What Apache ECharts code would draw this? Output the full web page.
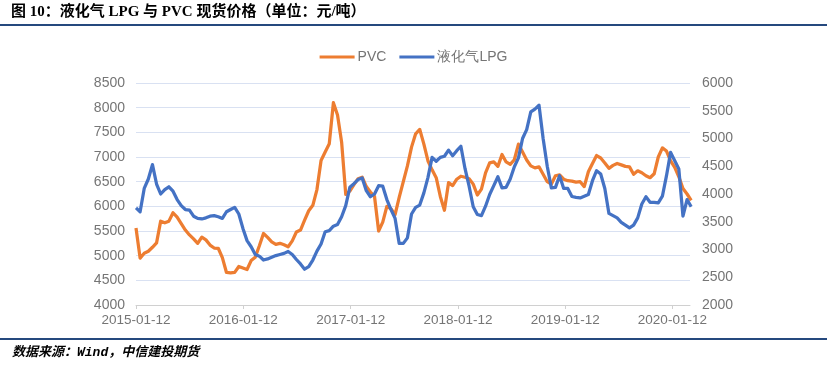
<!DOCTYPE html>
<html><head><meta charset="utf-8">
<script src="https://cdn.jsdelivr.net/npm/echarts@6/dist/echarts.min.js"></script>
<style>html,body{margin:0;padding:0;background:#fff}#c{width:827px;height:365px}</style>
</head><body><div id="c"></div>
<script>
const titleText = '图 10：液化气 LPG 与 PVC 现货价格（单位：元/吨）';
const sourceText = '数据来源：Wind，中信建投期货';
const seriesNames = ['PVC', '液化气LPG'];
const tickLabels = ['2015-01-12', '2016-01-12', '2017-01-12', '2018-01-12', '2019-01-12', '2020-01-12'];
const startDate = '2015-01-12';
const stepDays = 14;
const axisEnd = '2020-03-12';

const pvc = [5560,4950,5050,5090,5170,5260,5700,5665,5700,5870,
5780,5650,5520,5420,5340,5250,5375,5320,5215,5155,
5150,4960,4660,4650,4660,4780,4750,4720,4900,4970,
5200,5450,5370,5280,5230,5250,5220,5180,5300,5480,
5520,5720,5910,6020,6340,6930,7100,7270,8100,7850,
7300,6240,6310,6440,6560,6590,6400,6290,6200,5500,
5680,6000,5950,5830,6180,6500,6820,7200,7470,7560,
7260,6920,6740,6580,6200,5920,6480,6420,6550,6610,
6590,6560,6450,6230,6350,6680,6880,6900,6810,7050,
6900,6850,6945,7260,7100,6940,6820,6780,6800,6650,
6500,6450,6620,6640,6550,6520,6510,6490,6500,6400,
6700,6870,7030,6980,6880,6770,6830,6870,6840,6810,
6800,6650,6720,6680,6620,6580,6660,7000,7185,7120,
6920,6790,6600,6360,6250,6120];

const lpg = [3750,3680,4100,4270,4530,4180,4000,4080,4130,4050,
3900,3790,3720,3710,3600,3560,3550,3570,3600,3610,
3590,3560,3680,3720,3760,3640,3380,3160,3050,2910,
2880,2810,2830,2860,2890,2910,2930,2965,2910,2820,
2740,2645,2690,2810,2970,3100,3320,3340,3420,3450,
3590,3790,4120,4185,4260,4290,4060,3950,4000,4150,
4140,3900,3720,3560,3110,3110,3210,3640,3760,3800,
4020,4300,4660,4590,4660,4680,4790,4690,4780,4860,
4460,4140,3770,3630,3610,3780,3990,4150,4310,4110,
4120,4270,4490,4650,5000,5160,5480,5530,5600,5000,
4500,4110,4120,4330,4100,4100,3955,3940,3930,3960,
3990,4240,4420,4360,4100,3650,3610,3570,3490,3440,
3390,3440,3570,3820,3950,3850,3850,3840,3960,4330,
4750,4600,4450,3600,3900,3770];

function toTime(s, addDays) {
  const p = s.split('-').map(Number);
  return new Date(p[0], p[1] - 1, p[2] + (addDays || 0)).getTime();
}
function fmt(v) {
  const d = new Date(v);
  const pad = n => (n < 10 ? '0' : '') + n;
  return d.getFullYear() + '-' + pad(d.getMonth() + 1) + '-' + pad(d.getDate());
}
const dates = pvc.map((_, i) => toTime(startDate, i * stepDays));
const tickValues = tickLabels.map(s => toTime(s));

const chart = echarts.init(document.getElementById('c'), null, {renderer: 'canvas'});
const labelFont = '"Liberation Sans", Arial, sans-serif';
const labelColor = '#757575';
chart.setOption({
  animation: false,
  backgroundColor: '#fff',
  title: [
    {text: titleText, left: 11, top: 4, padding: 0,
     textStyle: {fontSize: 15, lineHeight: 17, fontWeight: 'bold', color: '#000',
       fontFamily: '"Liberation Serif", "Noto Sans CJK SC", serif'}},
    {text: sourceText, left: 12, top: 345, padding: 0,
     textStyle: {fontSize: 13, lineHeight: 16, fontWeight: 'bold', fontStyle: 'italic', color: '#000',
       fontFamily: '"Liberation Mono", "Noto Sans CJK SC", monospace'}}
  ],
  graphic: [
    {type: 'line', shape: {x1: 0, y1: 25, x2: 827, y2: 25}, style: {stroke: '#25497e', lineWidth: 2}},
    {type: 'line', shape: {x1: 0, y1: 339, x2: 827, y2: 339}, style: {stroke: '#25497e', lineWidth: 2}}
  ],
  legend: {
    data: seriesNames, top: 45, left: 'center', icon: 'rect', itemWidth: 35, itemHeight: 3, itemGap: 13,
    textStyle: {fontSize: 14, color: labelColor, fontFamily: labelFont, padding: [0, 0, 0, -2]}
  },
  grid: {left: 136, right: 137, top: 83, bottom: 60, containLabel: false},
  xAxis: {
    type: 'value', min: toTime(startDate), max: toTime(axisEnd), scale: true,
    axisLine: {lineStyle: {color: '#d0d0d0', width: 1}},
    axisTick: {show: true, customValues: tickValues, length: 4, lineStyle: {color: '#d0d0d0'}},
    axisLabel: {customValues: tickValues, formatter: v => fmt(v), color: labelColor, fontSize: 13.5,
      fontFamily: labelFont, margin: 8, hideOverlap: false, showMinLabel: true, showMaxLabel: true},
    splitLine: {show: false}
  },
  yAxis: [
    {type: 'value', min: 4000, max: 8500, interval: 500,
     axisLine: {show: false}, axisTick: {show: false},
     axisLabel: {color: labelColor, fontSize: 14, fontFamily: labelFont, margin: 11, formatter: v => String(v)},
     splitLine: {lineStyle: {color: '#d9e1f2', width: 1}}},
    {type: 'value', min: 2000, max: 6000, interval: 500,
     axisLine: {show: false}, axisTick: {show: false},
     axisLabel: {color: labelColor, fontSize: 14, fontFamily: labelFont, margin: 12, formatter: v => String(v)},
     splitLine: {show: false}}
  ],
  series: [
    {name: seriesNames[0], type: 'line', yAxisIndex: 0, symbol: 'none', clip: true,
     data: dates.map((d, i) => [d, pvc[i]]),
     lineStyle: {color: '#ED7D31', width: 3.25, join: 'round'}, itemStyle: {color: '#ED7D31'}},
    {name: seriesNames[1], type: 'line', yAxisIndex: 1, symbol: 'none', clip: true,
     data: dates.map((d, i) => [d, lpg[i]]),
     lineStyle: {color: '#4472C4', width: 3.25, join: 'round'}, itemStyle: {color: '#4472C4'}}
  ]
});
</script></body></html>
